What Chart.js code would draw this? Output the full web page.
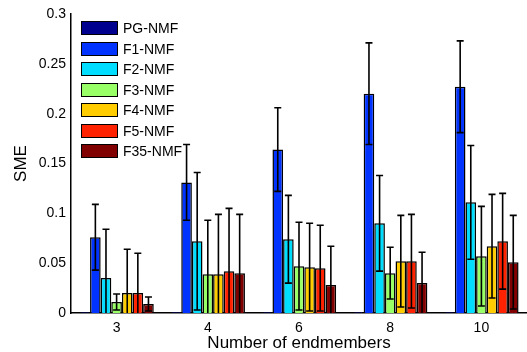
<!DOCTYPE html>
<html>
<head>
<meta charset="utf-8">
<script src="https://cdn.jsdelivr.net/npm/chart.js@4.4.0/dist/chart.umd.min.js"></script>
<style>
  html, body { margin: 0; padding: 0; background: #fff; }
  #wrap { position: relative; width: 527px; height: 352px; }
  #sme-chart { position: absolute; left: 0; top: 0; }
  #sme-legend { position: absolute; left: 81px; top: 21px; font-family: "Liberation Sans", Arial, sans-serif; font-size: 14px; color: #000; }
  .lg-row { position: absolute; left: 0; height: 15px; white-space: nowrap; }
  .lg-box { position: absolute; left: 0; top: 0; width: 35px; height: 12px; border: 1.5px solid #000; }
  .lg-text { position: absolute; left: 42px; top: -1px; line-height: 16px; }
</style>
</head>
<body>
<div id="wrap">
  <canvas id="sme-chart" width="527" height="352"></canvas>
  <div id="sme-legend"></div>
</div>
<script>
const categories = ['3', '4', '6', '8', '10'];
const methods = ['PG-NMF', 'F1-NMF', 'F2-NMF', 'F3-NMF', 'F4-NMF', 'F5-NMF', 'F35-NMF'];
const colors = ['#00008F', '#0033FF', '#00DDFF', '#99FF66', '#FFCC00', '#FF2200', '#800000'];

// mean SME per method
const pgNmf  = [0.0008, 0.0008, 0.0008, 0.0008, 0.0008];
const f1Nmf  = [0.076, 0.131, 0.164, 0.220, 0.227];
const f2Nmf  = [0.035, 0.072, 0.074, 0.090, 0.111];
const f3Nmf  = [0.011, 0.039, 0.047, 0.040, 0.057];
const f4Nmf  = [0.020, 0.039, 0.046, 0.052, 0.067];
const f5Nmf  = [0.020, 0.042, 0.045, 0.052, 0.072];
const f35Nmf = [0.009, 0.040, 0.028, 0.030, 0.051];

// standard deviation (error bar half length)
const pgErr  = [0, 0, 0, 0, 0];
const f1Err  = [0.033, 0.038, 0.042, 0.051, 0.046];
const f2Err  = [0.049, 0.069, 0.044, 0.048, 0.057];
const f3Err  = [0.008, 0.054, 0.044, 0.026, 0.050];
const f4Err  = [0.044, 0.060, 0.044, 0.046, 0.052];
const f5Err  = [0.040, 0.063, 0.043, 0.047, 0.048];
const f35Err = [0.007, 0.059, 0.039, 0.031, 0.047];

const yTicks = [0, 0.05, 0.1, 0.15, 0.2, 0.25, 0.3];

const values = [pgNmf, f1Nmf, f2Nmf, f3Nmf, f4Nmf, f5Nmf, f35Nmf];
const errors = [pgErr, f1Err, f2Err, f3Err, f4Err, f5Err, f35Err];

const fontFamily = '"Liberation Sans", Arial, sans-serif';

const errorBars = {
  id: 'errorBars',
  afterDatasetsDraw(chart) {
    const ctx = chart.ctx;
    const y = chart.scales.y;
    const area = chart.chartArea;
    ctx.save();
    ctx.beginPath();
    ctx.rect(area.left, area.top - 5, area.right - area.left, area.bottom - area.top + 5);
    ctx.clip();
    ctx.strokeStyle = '#000';
    ctx.lineWidth = 1.6;
    chart.data.datasets.forEach((ds, i) => {
      const meta = chart.getDatasetMeta(i);
      meta.data.forEach((bar, j) => {
        const err = errors[i][j];
        if (!err) return;
        const v = ds.data[j];
        const yTop = y.getPixelForValue(v + err);
        const yBot = y.getPixelForValue(v - err);
        const cap = 3.5;
        ctx.beginPath();
        ctx.moveTo(bar.x, yTop);
        ctx.lineTo(bar.x, yBot);
        ctx.moveTo(bar.x - cap, yTop);
        ctx.lineTo(bar.x + cap, yTop);
        ctx.moveTo(bar.x - cap, yBot);
        ctx.lineTo(bar.x + cap, yBot);
        ctx.stroke();
      });
    });
    ctx.restore();
  }
};

new Chart(document.getElementById('sme-chart'), {
  type: 'bar',
  data: {
    labels: categories,
    datasets: methods.map((m, i) => ({
      label: m,
      data: values[i],
      backgroundColor: colors[i],
      borderColor: '#000',
      borderWidth: 1.5,
      categoryPercentage: 0.815,
      barPercentage: 1.0
    }))
  },
  options: {
    responsive: false,
    animation: false,
    layout: { padding: { top: 14, right: 0, bottom: 0, left: 0 } },
    plugins: { legend: { display: false }, tooltip: { enabled: false } },
    scales: {
      x: {
        grid: { display: false, drawTicks: false },
        border: { display: true, color: '#000', width: 1.5 },
        ticks: { color: '#000', padding: 7, font: { family: fontFamily, size: 14 } },
        title: { display: true, text: 'Number of endmembers', color: '#000', padding: { top: 0, bottom: 0 }, font: { family: fontFamily, size: 17, lineHeight: 1 } },
        afterFit(scale) { scale.height = 39; }
      },
      y: {
        min: 0,
        max: 0.3,
        afterBuildTicks(scale) { scale.ticks = yTicks.map(v => ({ value: v })); },
        grid: { display: false, drawTicks: false },
        border: { display: true, color: '#000', width: 1.5 },
        ticks: { color: '#000', padding: 5, font: { family: fontFamily, size: 14 }, callback: v => String(+v.toFixed(2)) },
        title: { display: true, text: 'SME', color: '#000', padding: { top: 13, bottom: 0 }, font: { family: fontFamily, size: 17, lineHeight: 1 } },
        afterFit(scale) { scale.width = 71; }
      }
    }
  },
  plugins: [errorBars]
});

// legend drawn inside the axes, like the original figure
const legend = document.getElementById('sme-legend');
methods.forEach((m, i) => {
  const row = document.createElement('div');
  row.className = 'lg-row';
  row.style.top = (i * 20.5) + 'px';
  row.innerHTML = `<div class="lg-box" style="background:${colors[i]}"></div><span class="lg-text">${m}</span>`;
  legend.appendChild(row);
});
</script>
</body>
</html>
